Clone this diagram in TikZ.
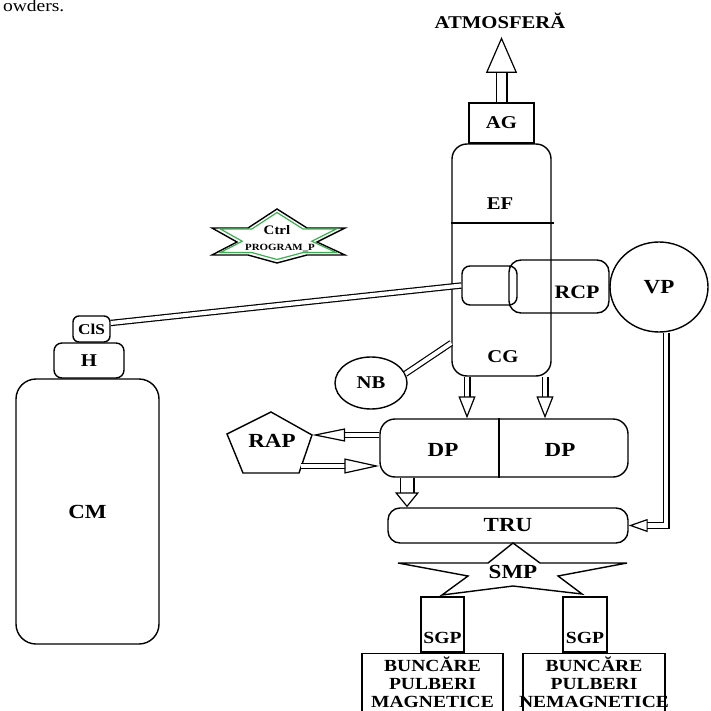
\documentclass[tikz,border=0pt]{standalone}
\usepackage{fontspec}
\setmainfont{Liberation Serif}[FakeStretch=1.15]
\usetikzlibrary{arrows.meta,shapes.geometric,positioning}
\definecolor{cgreen}{RGB}{60,175,80}

\begin{document}
\begin{tikzpicture}[x=1pt,y=-1pt,line width=1.4pt,
  lbl/.style={font=\fontsize{18}{20}\selectfont\bfseries},
  lblb/.style={font=\fontsize{20}{22}\selectfont\bfseries},
  lbls/.style={font=\fontsize{17}{18}\selectfont\bfseries},
  box/.style={draw, inner sep=0pt},
  pipe/.style={double, double distance=4pt, line width=1.2pt},
  hol/.style n args={3}{double, double distance=#1, line width=1.2pt,
    -{Triangle[open, length=#2, width=#3, line width=1.2pt]}}]
\useasboundingbox (0,0) rectangle (711,711);
\clip (0,0) rectangle (711,711);

\node[anchor=base west, font=\fontsize{17}{19}\selectfont] (txt) at (-1,12) {owders.};

%%% outlet to the atmosphere
\node[lbl] (atm) at (500,21) {ATMOSFERĂ};
\node[box, lbl, minimum width=65pt, minimum height=40pt] (AG) at (501.5,123) {AG};
\draw[hol={9.6pt}{36pt}{31pt}, shorten >=4pt] (AG.north) -- (AG.north |- atm.south);

%%% filter and cyclone column
\node[box, rounded corners=15pt, minimum width=99pt, minimum height=232pt] (col) at (501.5,260) {};
\node[lbl] (EF) at (500,204) {EF};
\node[lbl] (CG) at (503,357) {CG};
\draw (col.west |- 0,223) -- (554,223);
\node[box, rounded corners=12pt, minimum width=100pt, minimum height=53pt] (rcp) at (559,286.5) {};
\node[box, rounded corners=8pt, minimum width=55pt, minimum height=39pt] (valve) at (489.5,285.5) {};
\node[font=\fontsize{19}{21}\selectfont\bfseries] (RCP) at (577,292) {RCP};
\node[box, ellipse, lblb, minimum width=98pt, minimum height=90pt] (VP) at (659,287) {VP};
\node[box, ellipse, lbl, minimum width=72pt, minimum height=52pt] (NB) at (371,383) {NB};
\draw[pipe] (NB.15) -- (col.west |- 0,343);

%%% control unit
\draw (277,209) -- (307,228) -- (345,228) -- (317,242) -- (345,255) -- (307,255)
  -- (277,263) -- (248,255) -- (212,255) -- (237,242) -- (212,228) -- (248,228) -- cycle;
\draw[cgreen, line width=1.2pt, shift={(277,236)}, scale=0.87]
  (0,-27) -- (30,-8) -- (68,-8) -- (40,6) -- (68,19) -- (30,19)
  -- (0,27) -- (-29,19) -- (-65,19) -- (-40,6) -- (-65,-8) -- (-29,-8) -- cycle;
\node[font=\fontsize{13}{15}\selectfont\bfseries] (ctrl) at (277,230) {Ctrl};
\node[font=\fontsize{9.5}{11}\selectfont\bfseries] (prog) at (280,248) {PROGRAM\_P};

%%% compressed gas bottle
\node[box, lblb, rounded corners=20pt, minimum width=143pt, minimum height=265pt] (CM) at (87.5,511.5) {CM};
\node[box, lbl, rounded corners=8pt, minimum width=70pt, minimum height=35pt] (H) at (89,360.5) {H};
\node[box, font=\fontsize{15}{17}\selectfont\bfseries, rounded corners=6pt, minimum width=37pt, minimum height=26pt] (ClS) at (91.5,329) {ClS};
\draw[pipe] ([yshift=6pt]ClS.east) -- (valve.west);

%%% powder discharge
\node[box, rounded corners=15pt, minimum width=248pt, minimum height=58pt] (DP) at (504,448) {};
\draw (DP.north -| 499,0) -- (DP.south -| 499,0);
\node[lblb] (DPa) at (443,450) {DP};
\node[lblb] (DPb) at (560,450) {DP};
\draw[hol={4.6pt}{22pt}{17pt}] (col.south -| 467,0) -- (DP.north -| 467,0);
\draw[hol={4.6pt}{22pt}{17pt}] (col.south -| 545,0) -- (DP.north -| 545,0);

\coordinate (rapT) at (271,412);
\coordinate (rapR) at (312,435);
\coordinate (rapBR) at (299,473);
\coordinate (rapBL) at (243,473);
\coordinate (rapL) at (227,434);
\coordinate (rapout) at (301,466);
\draw (rapT) -- (rapR) -- (rapBR) -- (rapBL) -- (rapL) -- cycle;
\node[lblb] (RAP) at (272,441) {RAP};
\draw[hol={4pt}{33pt}{13pt}] (DP.west |- rapR) -- (rapR);
\draw[hol={4pt}{35pt}{15pt}] (rapout) -- (DP.west |- rapout);

%%% transport and magnetic separation
\node[box, lblb, rounded corners=12pt, minimum width=240pt, minimum height=35pt] (TRU) at (508,525.5) {TRU};
\draw[hol={12.6pt}{15pt}{24pt}] (DP.south -| 407,0) -- (TRU.north -| 407,0);
\draw[hol={4.6pt}{19pt}{13pt}] ([xshift=7pt]VP.south) |- (TRU.east);

\draw (513,543) -- (540,563) -- (627,563) -- (558,576) -- (582,594) -- (513,586)
  -- (442,595) -- (468,576) -- (398,563) -- (488,563) -- cycle;
\node[lblb] (SMP) at (513,572) {SMP};

\node[box, minimum width=43pt, minimum height=55pt] (sgpa) at (442.5,624.5) {};
\node[lbls] (SGPa) at (442.5,638) {SGP};
\node[box, minimum width=44pt, minimum height=55pt] (sgpb) at (585,624.5) {};
\node[lbls] (SGPb) at (585,638) {SGP};

\node[box, minimum width=141pt, minimum height=80pt, anchor=north] (bunca) at (432.5,653) {};
\node[lbls, align=center, inner sep=0pt] (BUNCa) at (432.5,682) {BUNCĂRE\\PULBERI\\MAGNETICE};
\node[box, minimum width=142pt, minimum height=80pt, anchor=north] (buncb) at (594,653) {};
\node[lbls, align=center, inner sep=0pt] (BUNCb) at (594,682) {BUNCĂRE\\PULBERI\\NEMAGNETICE};
\end{tikzpicture}
\end{document}
